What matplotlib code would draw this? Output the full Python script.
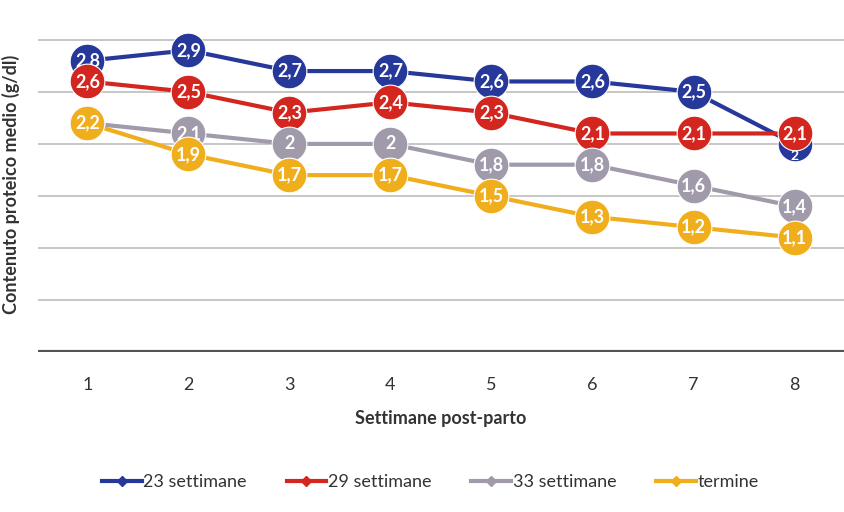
import numpy as np
import matplotlib
matplotlib.use("Agg")
import matplotlib.pyplot as plt

plt.rcParams['font.family'] = ['Lato', 'DejaVu Sans']

weeks = [1, 2, 3, 4, 5, 6, 7, 8]
w23 = [2.8, 2.9, 2.7, 2.7, 2.6, 2.6, 2.5, 2.0]
w29 = [2.6, 2.5, 2.3, 2.4, 2.3, 2.1, 2.1, 2.1]
w33 = [2.2, 2.1, 2.0, 2.0, 1.8, 1.8, 1.6, 1.4]
term = [2.2, 1.9, 1.7, 1.7, 1.5, 1.3, 1.2, 1.1]

names = ['23 settimane', '29 settimane', '33 settimane', 'termine']
colors = ['#26389a', '#d3261f', '#a19aab', '#f0ae1c']


def fmt(v):
    s = ('%.1f' % v).rstrip('0').rstrip('.')
    return s.replace('.', ',')


fig = plt.figure(figsize=(8.44, 5.12), dpi=100)
ax = fig.add_axes([0.045, 0.3125, 0.955, 0.63])

for k, series in enumerate([w23, w29, w33, term]):
    z = 3 + k * 2
    ax.plot(weeks, series, color=colors[k], lw=3, zorder=z,
            marker='o', markersize=25, markeredgecolor='white', markeredgewidth=0.8)
    for i, (x, v) in enumerate(zip(weeks, series)):
        if k == 0 and i == len(series) - 1:
            # last blue point sits under the red one, its label peeks out below
            ax.annotate(fmt(v), (x, v), xytext=(0, -9), textcoords='offset points',
                        color='white', fontsize=10, fontweight='bold',
                        ha='center', va='center', zorder=20)
            continue
        ax.text(x, v, fmt(v), color='white', fontsize=13, fontweight='bold',
                ha='center', va='center', zorder=z + 1)
    # legend proxy
    ax.plot([], [], color=colors[k], lw=3, marker='D', markersize=5, label=names[k])

ax.set_xlim(0.51, 8.49)
ax.set_ylim(0, 3.1)
for g in [0.5, 1.0, 1.5, 2.0, 2.5, 3.0]:
    ax.axhline(g, color='#c2c2c2', lw=1.3, zorder=1)
ax.axhline(0, color='#57525a', lw=3, zorder=2)

for s in ax.spines.values():
    s.set_visible(False)
ax.set_yticks([])
ax.set_xticks(weeks)
ax.tick_params(axis='x', length=0, labelsize=13, pad=18, colors='#333333')

ax.set_xlabel('Settimane post-parto', fontsize=13, fontweight='bold', labelpad=12, color='#333333')
ax.set_ylabel('Contenuto proteico medio (g/dl)', fontsize=13, fontweight='bold', labelpad=2,
              color='#333333')
ax.yaxis.set_label_coords(-0.022, 0.52)

leg = fig.legend(loc='center', bbox_to_anchor=(0.51, 0.058), ncol=4, frameon=False,
                 fontsize=13, handlelength=2.2, handletextpad=0.1, columnspacing=2.2)
for t in leg.get_texts():
    t.set_color('#333333')

fig.savefig('out.png', dpi=100)
